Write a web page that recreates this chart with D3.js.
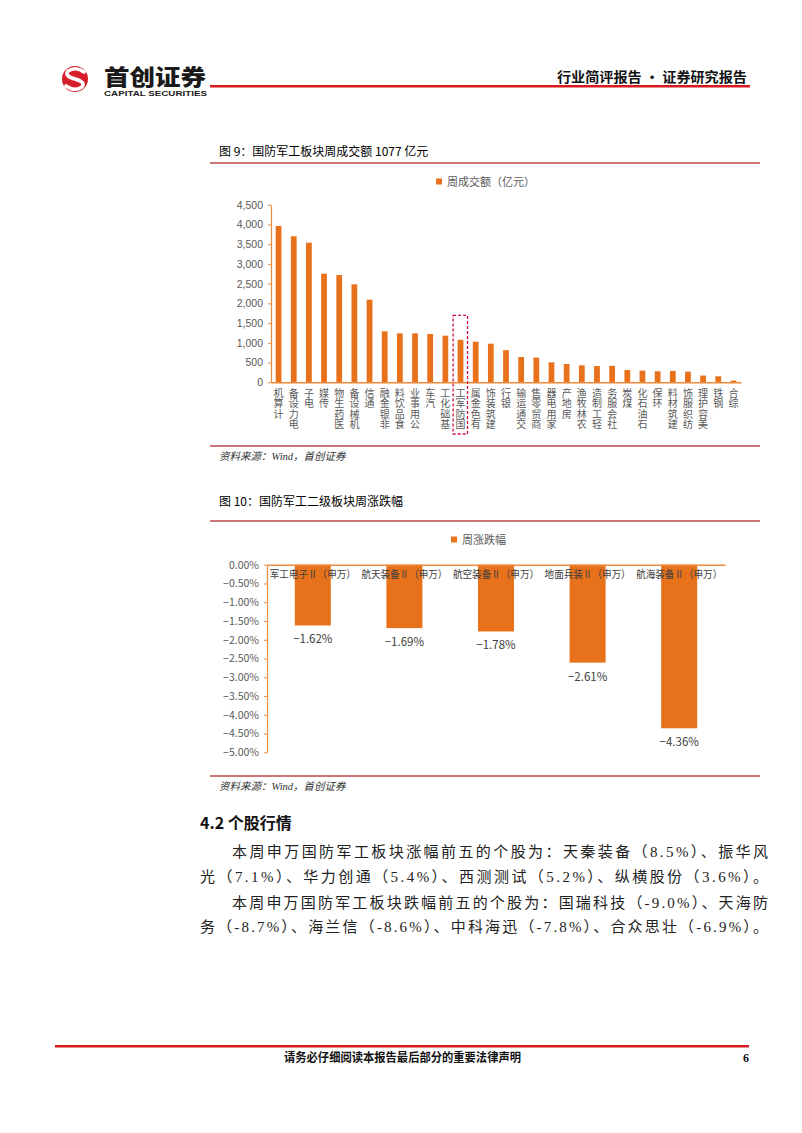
<!DOCTYPE html>
<html><head><meta charset="utf-8">
<script src="https://cdn.jsdelivr.net/npm/d3@7"></script>
<style>
html,body{margin:0;padding:0;background:#fff;}
svg{display:block;}
</style></head>
<body>
<svg id="page" width="802" height="1133"></svg>
<script>
// ---------- data ----------
const volumeCategories = ["计算机","电力设备","电子","传媒","医药生物","机械设备","通信","非银金融","食品饮料","公用事业","汽车","基础化工","国防军工","有色金属","建筑装饰","银行","交通运输","商贸零售","家用电器","房地产","农林牧渔","轻工制造","社会服务","煤炭","石油石化","环保","建筑材料","纺织服饰","美容护理","钢铁","综合"];
const volumeValues = [3960,3700,3537,2752,2718,2483,2093,1292,1241,1241,1224,1181,1077,1029,978,815,641,625,507,464,430,413,418,312,296,279,287,270,170,152,43];
const volumeTicks = [0,500,1000,1500,2000,2500,3000,3500,4000,4500];
const highlightCategory = "国防军工";

const changeCategories = ["军工电子Ⅱ（申万）","航天装备Ⅱ（申万）","航空装备Ⅱ（申万）","地面兵装Ⅱ（申万）","航海装备Ⅱ（申万）"];
const changeValues = [-1.62,-1.69,-1.78,-2.61,-4.36];
const changeTicks = [0,-0.5,-1,-1.5,-2,-2.5,-3,-3.5,-4,-4.5,-5];

// ---------- styles ----------
const BAR = "#E8711C", AXIS = "#EE8A3C", GRAY = "#595959", DARK = "#404040";
const CJK = "'Noto Sans CJK SC','Noto Sans',sans-serif";
const SERIF = "'Liberation Serif','Noto Sans CJK SC',serif";

const svg = d3.select("#page");

// ---------- header ----------
svg.append("circle").attr("cx",75).attr("cy",79).attr("r",13).attr("fill","#D7202B");
svg.append("path").attr("d","M84 72 Q76 66 68 71 Q64 76 75 79 Q86 82 82 87 Q75 92 66 86")
  .attr("fill","none").attr("stroke","#fff").attr("stroke-width",3.6).attr("stroke-linecap","round");
svg.append("text").attr("x",104).attr("y",85).attr("font-family",CJK).attr("font-weight",900)
  .attr("font-size",22).attr("fill","#1a1a1a").attr("textLength",102).attr("lengthAdjust","spacingAndGlyphs").text("首创证券");
svg.append("text").attr("x",104).attr("y",96).attr("font-family","'Liberation Sans',Arial,sans-serif").attr("font-weight",700)
  .attr("font-size",7.5).attr("fill","#1a1a1a").attr("textLength",103).attr("lengthAdjust","spacingAndGlyphs").text("CAPITAL SECURITIES");
svg.append("rect").attr("x",210).attr("y",85).attr("width",540).attr("height",2.5).attr("fill","#D71920");
svg.append("text").attr("x",557).attr("y",82).attr("font-family",CJK).attr("font-weight",700)
  .attr("font-size",13.5).attr("fill","#111").attr("textLength",190).attr("lengthAdjust","spacingAndGlyphs").text("行业简评报告 · 证券研究报告");

// ---------- helper for chart frame ----------
function frame(titleY, lineY, title, sourceLineY) {
  svg.append("text").attr("x",219).attr("y",titleY).attr("font-family",CJK).attr("font-size",12).attr("fill","#000").text(title);
  svg.append("line").attr("x1",210).attr("x2",760).attr("y1",lineY).attr("y2",lineY).attr("stroke","#B8484A").attr("stroke-width",1.6);
  svg.append("line").attr("x1",210).attr("x2",760).attr("y1",sourceLineY).attr("y2",sourceLineY).attr("stroke","#B8484A").attr("stroke-width",1.6);
  svg.append("text").attr("x",219).attr("y",sourceLineY+14).attr("font-family",SERIF).attr("font-style","italic")
    .attr("font-size",10.5).attr("fill","#333").text("资料来源：Wind，首创证券");
}

// ---------- chart 1 ----------
frame(156, 163, "图 9：国防军工板块周成交额 1077 亿元", 446);
svg.append("rect").attr("x",436).attr("y",178.5).attr("width",6).attr("height",6).attr("fill",BAR);
svg.append("text").attr("x",447).attr("y",186).attr("font-family",CJK).attr("font-size",11).attr("fill",GRAY).text("周成交额（亿元）");

const x1 = d3.scaleBand().domain(volumeCategories).range([271,741]).paddingInner(0.62).paddingOuter(0.31);
const y1 = d3.scaleLinear().domain([0,4500]).range([382.3,204.7]);
const c1 = svg.append("g");
c1.selectAll("rect.bar").data(volumeValues).join("rect").attr("class","bar")
  .attr("x",(d,i)=>x1(volumeCategories[i])).attr("width",x1.bandwidth())
  .attr("y",d=>y1(d)).attr("height",d=>y1(0)-y1(d)).attr("fill",BAR);
const ya1 = c1.append("g").attr("transform","translate(271,0)")
  .call(d3.axisLeft(y1).tickValues(volumeTicks).tickSize(3).tickSizeOuter(0).tickPadding(5).tickFormat(d3.format(",")));
ya1.select(".domain").attr("stroke",AXIS).attr("stroke-width",1.2);
ya1.selectAll(".tick line").attr("stroke",AXIS);
ya1.selectAll(".tick text").attr("font-family","'Liberation Sans',Arial,sans-serif").attr("font-size",10.5).attr("fill",GRAY);
const xa1 = c1.append("g").attr("transform","translate(0,382.3)")
  .call(d3.axisBottom(x1).tickSize(0).tickSizeOuter(0));
xa1.select(".domain").attr("stroke",AXIS).attr("stroke-width",1.5);
// vertical labels: text rotated -90 (reads bottom-to-top), each glyph turned upright
xa1.selectAll(".tick text")
  .attr("x",0).attr("y",0).attr("dy",null)
  .attr("transform","translate(-5,4.5) rotate(-90)")
  .attr("text-anchor","end")
  .attr("rotate",90)
  .attr("letter-spacing",0.3)
  .attr("font-family",CJK).attr("font-size",10).attr("fill",GRAY);
// highlight dashed box
const hx = x1(highlightCategory) + x1.bandwidth()/2;
const hv = volumeValues[volumeCategories.indexOf(highlightCategory)];
c1.append("rect").attr("x",hx-7.4).attr("width",14.4).attr("y",y1(hv)-24.5).attr("height",434-(y1(hv)-24.5))
  .attr("fill","none").attr("stroke","#D0103A").attr("stroke-width",1.3).attr("stroke-dasharray","3,2");

// ---------- chart 2 ----------
frame(506, 521, "图 10：国防军工二级板块周涨跌幅", 776);
svg.append("rect").attr("x",451).attr("y",536.5).attr("width",6).attr("height",6).attr("fill",BAR);
svg.append("text").attr("x",462).attr("y",544).attr("font-family",CJK).attr("font-size",11).attr("fill",GRAY).text("周涨跌幅");

const x2 = d3.scaleBand().domain(changeCategories).range([267,725]).paddingInner(0.607).paddingOuter(0.3035);
const y2 = d3.scaleLinear().domain([-5,0]).range([752.3,564.7]);
const c2 = svg.append("g");
c2.selectAll("rect.bar").data(changeValues).join("rect").attr("class","bar")
  .attr("x",(d,i)=>x2(changeCategories[i])).attr("width",x2.bandwidth())
  .attr("y",y2(0)).attr("height",d=>y2(d)-y2(0)).attr("fill",BAR);
const fmtPct = v => (v===0 ? "0.00%" : "−" + Math.abs(v).toFixed(2) + "%");
const ya2 = c2.append("g").attr("transform","translate(267,0)")
  .call(d3.axisLeft(y2).tickValues(changeTicks).tickSize(3).tickSizeOuter(0).tickPadding(5).tickFormat(fmtPct));
ya2.select(".domain").attr("stroke",AXIS).attr("stroke-width",1.2);
ya2.selectAll(".tick line").attr("stroke",AXIS);
ya2.selectAll(".tick text").attr("font-family",CJK).attr("font-size",10.5).attr("fill",GRAY);
const xa2 = c2.append("g").attr("transform","translate(0,"+y2(0)+")")
  .call(d3.axisBottom(x2).tickSize(0).tickSizeOuter(0).tickPadding(12));
xa2.select(".domain").attr("stroke",AXIS).attr("stroke-width",1.5);
xa2.selectAll(".tick text").attr("font-family",CJK).attr("font-size",10.5).attr("fill",DARK).attr("dy","0.1em")
  .attr("textLength",86).attr("lengthAdjust","spacingAndGlyphs");
c2.selectAll("text.val").data(changeValues).join("text").attr("class","val")
  .attr("x",(d,i)=>x2(changeCategories[i])+x2.bandwidth()/2).attr("y",d=>y2(d)+18)
  .attr("text-anchor","middle").attr("font-family",CJK).attr("font-size",11.5).attr("fill",DARK)
  .text(d=>"−"+Math.abs(d).toFixed(2)+"%");

// ---------- body text ----------
svg.append("text").attr("x",200).attr("y",829).attr("font-family",CJK).attr("font-weight",700)
  .attr("font-size",16).attr("fill","#111").text("4.2 个股行情");
const bodyLines = [
  {x:232, y:857, t:"本周申万国防军工板块涨幅前五的个股为：天秦装备（8.5%）、振华风"},
  {x:200, y:882, t:"光（7.1%）、华力创通（5.4%）、西测测试（5.2%）、纵横股份（3.6%）。"},
  {x:232, y:908, t:"本周申万国防军工板块跌幅前五的个股为：国瑞科技（-9.0%）、天海防"},
  {x:200, y:932, t:"务（-8.7%）、海兰信（-8.6%）、中科海迅（-7.8%）、合众思壮（-6.9%）。"}
];
bodyLines.forEach(l=>{
  svg.append("text").attr("x",l.x).attr("y",l.y).attr("font-family",SERIF).attr("font-size",15)
    .attr("fill","#222").attr("textLength",768-l.x).attr("lengthAdjust","spacing").text(l.t);
});

// ---------- footer ----------
svg.append("rect").attr("x",55).attr("y",1045).attr("width",694).attr("height",2.5).attr("fill","#D71920");
svg.append("text").attr("x",284).attr("y",1062).attr("font-family",CJK).attr("font-weight",700)
  .attr("font-size",12).attr("fill","#111").attr("textLength",237).attr("lengthAdjust","spacingAndGlyphs").text("请务必仔细阅读本报告最后部分的重要法律声明");
svg.append("text").attr("x",743).attr("y",1062).attr("font-family",SERIF).attr("font-weight",700)
  .attr("font-size",12).attr("fill","#111").text("6");
</script>
</body></html>
